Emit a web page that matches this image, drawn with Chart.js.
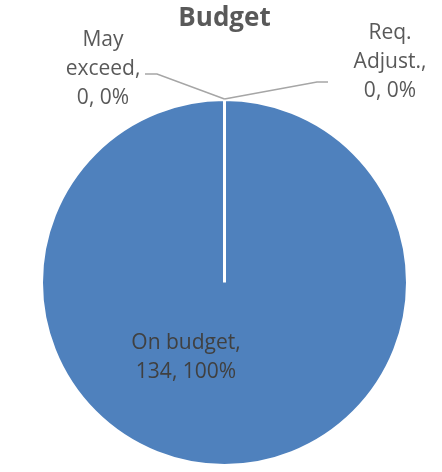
<!DOCTYPE html>
<html>
<head>
<meta charset="utf-8">
<script src="https://cdn.jsdelivr.net/npm/chart.js@4"></script>
<style>
  html, body { margin: 0; padding: 0; background: #fff; }
  #wrap { width: 442px; height: 472px; }
</style>
</head>
<body>
<div id="wrap"><canvas id="chart-budget"></canvas></div>
<script>
const categories = ['On budget', 'May exceed', 'Req. Adjust.'];
const counts = [134, 0, 0];
const sliceColors = ['#4f81bd', '#c0504d', '#9bbb59'];

const total = counts.reduce((a, b) => a + b, 0);

// label text lines for each slice: "name, value, pct%"
function labelLines(i) {
  const pct = Math.round((counts[i] / total) * 100);
  if (i === 0) return ['On budget,', `${counts[i]}, ${pct}%`];
  if (i === 1) return ['May', 'exceed,', `${counts[i]}, ${pct}%`];
  return ['Req.', 'Adjust.,', `${counts[i]}, ${pct}%`];
}

const labelPlugin = {
  id: 'pieLabels',
  afterDatasetsDraw(chart) {
    const ctx = chart.ctx;
    const arc = chart.getDatasetMeta(0).data[0];
    const cx = arc.x;
    const cy = arc.y;
    const r = arc.outerRadius - 1.5; // visible edge (border eats 1.5px)
    const topY = cy - r;

    ctx.save();
    // leader lines for the zero slices
    ctx.strokeStyle = '#a6a6a6';
    ctx.lineWidth = 1.5;
    ctx.beginPath();
    ctx.moveTo(cx, topY - 2);
    ctx.lineTo(cx - 67.5, topY - 27);
    ctx.lineTo(cx - 79.5, topY - 27);
    ctx.moveTo(cx, topY - 2);
    ctx.lineTo(cx + 92.5, topY - 19);
    ctx.lineTo(cx + 103.5, topY - 19);
    ctx.stroke();

    ctx.font = '21px "Open Sans"';
    ctx.textAlign = 'center';
    ctx.textBaseline = 'middle';
    const lh = 29;

    const drawLines = (lines, x, yMid, color) => {
      ctx.fillStyle = color;
      const y0 = yMid - ((lines.length - 1) * lh) / 2;
      lines.forEach((t, k) => ctx.fillText(t, x, y0 + k * lh));
    };

    drawLines(labelLines(0), cx - 38.5, cy + 75, '#404040');
    drawLines(labelLines(1), cx - 121.5, topY - 32, '#595959');
    drawLines(labelLines(2), cx + 165.5, topY - 39, '#595959');
    ctx.restore();
  }
};

new Chart(document.getElementById('chart-budget').getContext('2d'), {
  type: 'pie',
  data: {
    labels: categories,
    datasets: [
      {
        data: counts,
        backgroundColor: sliceColors,
        borderColor: '#ffffff',
        borderWidth: 3,
      },
    ],
  },
  options: {
    responsive: true,
    maintainAspectRatio: false,
    animation: false,
    layout: {
      padding: { left: 40, right: 33, top: 0, bottom: 5 },
    },
    plugins: {
      legend: { display: false },
      tooltip: { enabled: false },
      title: {
        display: true,
        text: 'Budget',
        color: '#595959',
        font: { family: '"Open Sans"', size: 26, weight: 'bold', lineHeight: 1.2 },
        padding: { top: 3, bottom: 63.8 },
      },
    },
  },
  plugins: [labelPlugin],
});
</script>
</body>
</html>
